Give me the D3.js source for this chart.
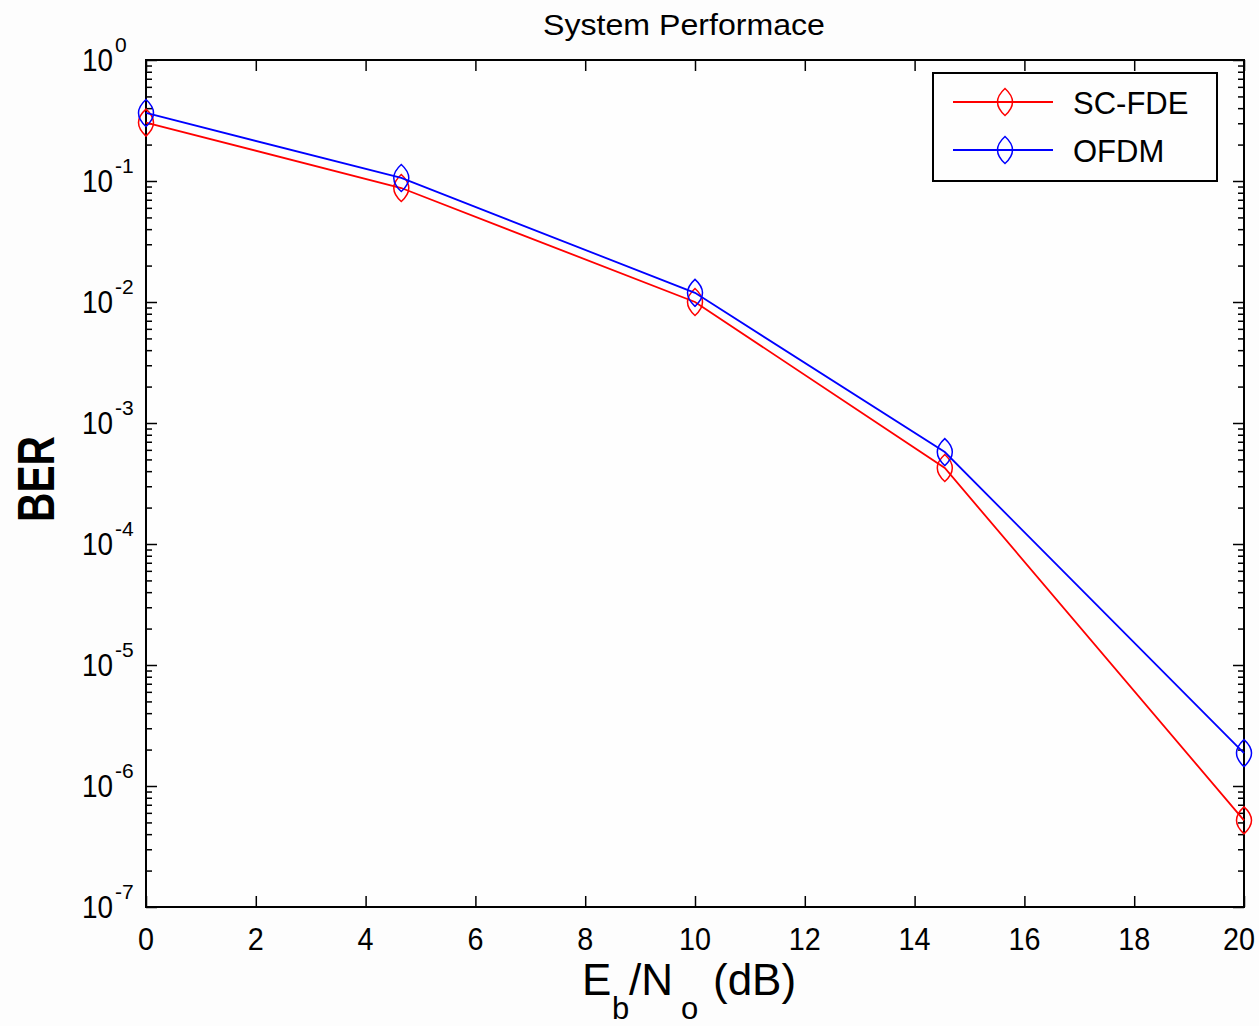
<!DOCTYPE html>
<html>
<head>
<meta charset="utf-8">
<script src="https://cdn.jsdelivr.net/npm/d3@7"></script>
<style>
  html, body { margin: 0; padding: 0; background: #fdfdfd; }
  svg { display: block; font-family: "Liberation Sans", Arial, sans-serif; }
</style>
</head>
<body>
<svg id="chart" width="1259" height="1026"></svg>
<script>
// ---- data ----
const ebno = [0, 4.65, 10, 14.55, 20];
const scfde = [0.304, 0.0875, 0.0100, 4.25e-4, 5.2e-7];
const ofdm = [0.365, 0.106, 0.0119, 5.75e-4, 1.87e-6];
const seriesNames = ["SC-FDE", "OFDM"];
const seriesColors = ["#ff0000", "#0000ff"];
const xTicks = [0, 2, 4, 6, 8, 10, 12, 14, 16, 18, 20];
const yExponents = [0, -1, -2, -3, -4, -5, -6, -7];
const titleText = "System Performace";
const yLabelText = "BER";

// ---- layout ----
const W = 1259, H = 1026;
const L = 146, R = 1244, T = 60, B = 907;
const svg = d3.select("#chart");
svg.append("rect").attr("width", W).attr("height", H).attr("fill", "#fdfdfd");
svg.append("rect").attr("x", L).attr("y", T).attr("width", R - L).attr("height", B - T).attr("fill", "#fefefe");

const x = d3.scaleLinear().domain([0, 20]).range([L, R]);
const y = d3.scaleLog().domain([1e-7, 1]).range([B, T]);

const majors = yExponents.map(e => Math.pow(10, e));
const minors = [];
yExponents.slice(1).forEach(e => { for (let k = 2; k <= 9; k++) minors.push(k * Math.pow(10, e)); });

function styleAxis(g) {
  g.select(".domain").remove();
  g.selectAll(".tick line").attr("stroke", "#000").attr("stroke-width", 1.5);
  g.selectAll(".tick text").remove();
}
svg.append("g").attr("transform", `translate(0,${B})`)
  .call(d3.axisBottom(x).tickValues(xTicks).tickSize(-11).tickFormat("")).call(styleAxis);
svg.append("g").attr("transform", `translate(0,${T})`)
  .call(d3.axisTop(x).tickValues(xTicks).tickSize(-11).tickFormat("")).call(styleAxis);
svg.append("g").attr("transform", `translate(${L},0)`)
  .call(d3.axisLeft(y).tickValues(majors).tickSize(-11).tickFormat("")).call(styleAxis);
svg.append("g").attr("transform", `translate(${L},0)`)
  .call(d3.axisLeft(y).tickValues(minors).tickSize(-6).tickFormat("")).call(styleAxis);
svg.append("g").attr("transform", `translate(${R},0)`)
  .call(d3.axisRight(y).tickValues(majors).tickSize(-11).tickFormat("")).call(styleAxis);
svg.append("g").attr("transform", `translate(${R},0)`)
  .call(d3.axisRight(y).tickValues(minors).tickSize(-6).tickFormat("")).call(styleAxis);

// box
svg.append("rect").attr("x", L).attr("y", T).attr("width", R - L).attr("height", B - T)
  .attr("fill", "none").attr("stroke", "#000").attr("stroke-width", 2);

// x tick labels
svg.append("g").selectAll("text").data(xTicks).join("text")
  .attr("x", d => Math.min(x(d), 1239)).attr("y", B + 43)
  .attr("text-anchor", "middle").attr("font-size", 31).attr("fill", "#000")
  .attr("textLength", d => String(d).length * 16).attr("lengthAdjust", "spacingAndGlyphs")
  .text(d => d);

// y tick labels with superscripts
const yl = svg.append("g");
yExponents.forEach(e => {
  const v = Math.pow(10, e);
  yl.append("text").attr("x", 113).attr("y", y(v) + 11)
    .attr("text-anchor", "end").attr("font-size", 31).attr("fill", "#000")
    .attr("textLength", 31).attr("lengthAdjust", "spacingAndGlyphs").text("10");
  yl.append("text").attr("x", 115).attr("y", y(v) - 8)
    .attr("text-anchor", "start").attr("font-size", 21).attr("fill", "#000").text(String(e));
});

// title
svg.append("text").attr("x", 543).attr("y", 35).attr("font-size", 30)
  .attr("textLength", 282).attr("lengthAdjust", "spacingAndGlyphs").attr("fill", "#000")
  .text(titleText);

// y label
svg.append("text").attr("transform", "translate(54,479) rotate(-90)")
  .attr("text-anchor", "middle").attr("font-size", 52).attr("font-weight", "bold")
  .attr("textLength", 86).attr("lengthAdjust", "spacingAndGlyphs").attr("fill", "#000")
  .text(yLabelText);

// x label: E_b/N_o (dB)
const xl = svg.append("text").attr("y", 995).attr("font-size", 44).attr("fill", "#000");
xl.append("tspan").attr("x", 582).attr("y", 995).text("E");
xl.append("tspan").attr("x", 612).attr("y", 1019).attr("font-size", 31).text("b");
xl.append("tspan").attr("x", 629).attr("y", 995).text("/N");
xl.append("tspan").attr("x", 681).attr("y", 1019).attr("font-size", 31).text("o");
xl.append("tspan").attr("x", 713).attr("y", 995).text("(dB)");

// marker shape (tall lens / diamond)
const mw = 7.5, mh = 13.5;
const markerPath = `M0,${-mh} Q${2 * mw},0 0,${mh} Q${-2 * mw},0 0,${-mh} Z`;

const allSeries = [scfde, ofdm];
const line = d3.line().x(d => x(d[0])).y(d => y(d[1]));
allSeries.forEach((vals, i) => {
  const pts = ebno.map((e, j) => [e, vals[j]]);
  const g = svg.append("g");
  g.append("path").attr("d", line(pts)).attr("fill", "none")
    .attr("stroke", seriesColors[i]).attr("stroke-width", 1.8);
  g.selectAll("path.m").data(pts).join("path").attr("class", "m")
    .attr("transform", d => `translate(${x(d[0])},${y(d[1])})`)
    .attr("d", markerPath).attr("fill", "none")
    .attr("stroke", seriesColors[i]).attr("stroke-width", 1.5);
});

// legend
const lg = svg.append("g");
lg.append("rect").attr("x", 933).attr("y", 73).attr("width", 284).attr("height", 108)
  .attr("fill", "#fefefe").attr("stroke", "#000").attr("stroke-width", 2);
const legendY = [102, 150];
seriesNames.forEach((name, i) => {
  lg.append("line").attr("x1", 953).attr("x2", 1053).attr("y1", legendY[i]).attr("y2", legendY[i])
    .attr("stroke", seriesColors[i]).attr("stroke-width", 1.8);
  lg.append("path").attr("transform", `translate(1005,${legendY[i]})`).attr("d", markerPath)
    .attr("fill", "none").attr("stroke", seriesColors[i]).attr("stroke-width", 1.5);
  lg.append("text").attr("x", 1073).attr("y", legendY[i] + 12).attr("font-size", 31)
    .attr("fill", "#000").text(name);
});
</script>
</body>
</html>
